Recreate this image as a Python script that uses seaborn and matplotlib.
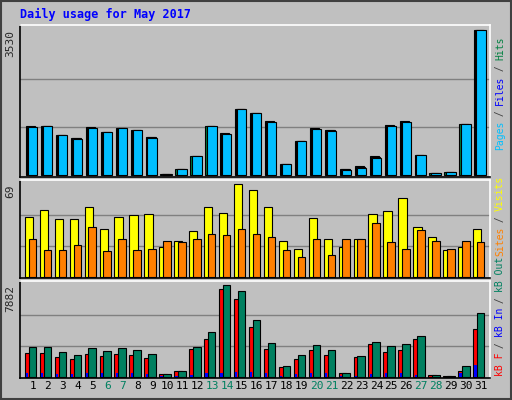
import numpy as np
import matplotlib
matplotlib.use("Agg")
import matplotlib.pyplot as plt
import seaborn as sns

# -------------------- #
# Data
# -------------------- #
days = list(range(1, 32))
weekend_days = [6, 7, 13, 14, 20, 21, 27, 28]

hits = [1201, 1201, 985, 913, 1177, 1057, 1153, 1105, 937, 48, 168, 480, 1201, 1033, 1609,
        1513, 1321, 288, 841, 1153, 1105, 168, 224, 464, 1225, 1321, 504, 72, 96, 1249, 3530]
files = [1190, 1201, 985, 900, 1165, 1057, 1153, 1105, 925, 48, 168, 480, 1201, 1020, 1609,
         1513, 1310, 288, 841, 1140, 1095, 160, 210, 450, 1210, 1310, 504, 72, 96, 1249, 3530]
pages = [1177, 1201, 985, 889, 1153, 1057, 1153, 1105, 913, 40, 150, 480, 1201, 1009, 1609,
         1513, 1297, 288, 841, 1129, 1081, 144, 190, 432, 1201, 1297, 504, 72, 96, 1249, 3530]

visits = [45, 50, 43, 43, 52, 36, 45, 46, 47, 22, 27, 34, 52, 48, 69,
          65, 52, 27, 21, 44, 28, 22, 28, 47, 49, 59, 37, 30, 20, 22, 36]
sites = [28, 20, 20, 24, 37, 19, 28, 20, 21, 27, 26, 28, 32, 31, 36,
         32, 30, 20, 15, 28, 16, 28, 28, 40, 26, 21, 35, 27, 21, 27, 26]

kb_f = [2058, 2058, 1710, 1536, 1971, 1797, 1971, 1884, 1623, 232, 493, 2405, 3275, 7535, 6665,
        4231, 2405, 840, 1536, 2318, 1884, 319, 1710, 2840, 2144, 2318, 3275, 145, 58, 493, 4057]
kb_in = [350, 350, 290, 290, 350, 350, 350, 350, 290, 60, 60, 180, 350, 350, 460,
         460, 350, 60, 290, 350, 350, 60, 100, 240, 350, 350, 180, 30, 30, 350, 1050]
kb_out = [2579, 2579, 2144, 1884, 2492, 2231, 2492, 2318, 1971, 232, 493, 2579, 3796, 7882, 7361,
          4840, 2927, 927, 1884, 2753, 2318, 319, 1797, 3014, 2666, 2840, 3536, 145, 58, 927, 5448]

max_hits, max_visits, max_kb = 3530, 69, 7882

BG = "#C0C0C0"
sns.set_style("white")
plt.rcParams['font.family'] = ['DejaVu Sans Mono', 'DejaVu Sans']

fig = plt.figure(figsize=(5.12, 4.0), dpi=100, facecolor=BG)
fig.patches.append(plt.Rectangle((0.002, 0.002), 0.996, 0.996, transform=fig.transFigure,
                                 fill=False, edgecolor="#404040", linewidth=1.5))

x = np.array(days, dtype=float)


def make_axes(rect, ymax, top_val):
    ax = fig.add_axes(rect, facecolor=BG)
    ax.set_xlim(0.18, 31.6)
    ax.set_ylim(-ymax * 0.01, ymax)
    for f in (1 / 3, 2 / 3):
        ax.axhline(top_val * f, color="#808080", linewidth=1, zorder=0)
    ax.set_xticks([])
    ax.set_yticks([])
    for side in ("left", "bottom"):
        ax.spines[side].set_color("black")
    for side in ("top", "right"):
        ax.spines[side].set_color("white")
    for sp in ax.spines.values():
        sp.set_linewidth(1.2)
    return ax


# Panel 1: hits / files / pages
ax1 = make_axes([0.040, 0.5575, 0.917, 0.38], max_hits * 1.037, max_hits)
ax1.bar(x - 0.45, hits, width=0.6, align="edge", color="#008040", edgecolor="black", linewidth=0.8)
ax1.bar(x - 0.37, files, width=0.6, align="edge", color="#0000FF", edgecolor="black", linewidth=0.8)
ax1.bar(x - 0.32, pages, width=0.62, align="edge", color="#00BFFF", edgecolor="black", linewidth=0.8)

# Panel 2: visits / sites
ax2 = make_axes([0.040, 0.306, 0.917, 0.243], max_visits * 1.044, max_visits)
ax2.bar(x - 0.53, visits, width=0.55, align="edge", color="#FFFF00", edgecolor="black", linewidth=0.8)
ax2.bar(x - 0.27, sites, width=0.5, align="edge", color="#FF8000", edgecolor="black", linewidth=0.8)

# Panel 3: kB F / kB In / kB Out
ax3 = make_axes([0.040, 0.055, 0.917, 0.243], max_kb * 1.04, max_kb)
ax3.bar(x - 0.53, kb_f, width=0.5, align="edge", color="#FF0000", edgecolor="black", linewidth=0.8)
ax3.bar(x - 0.45, kb_in, width=0.15, align="edge", color="#0000FF", linewidth=0)
ax3.bar(x - 0.27, kb_out, width=0.5, align="edge", color="#008060", edgecolor="black", linewidth=0.8)

# day labels
for d in days:
    ax3.text(d, -0.03, str(d), transform=ax3.get_xaxis_transform(), ha="center", va="top",
             fontsize=8, color="#008060" if d in weekend_days else "black")

# max labels on the left
for ax, val in ((ax1, max_hits), (ax2, max_visits), (ax3, max_kb)):
    ax.text(-0.012, val, str(val), transform=ax.get_yaxis_transform(),
            rotation=90, ha="right", va="top", fontsize=8)

# title
fig.text(20 / 512, 1 - 14 / 400, "Daily usage for May 2017", color="#0000FF",
         fontsize=8.5, fontweight="bold", va="center", ha="left")


# rotated coloured legend labels on the right
def side_label(pieces, y_bottom_px, char_px=5.6, x_px=500):
    y = y_bottom_px
    for txt, col in pieces:
        fig.text(x_px / 512, 1 - y / 400, txt, rotation=90, color=col, fontsize=7.0,
                 ha="center", va="bottom")
        y -= len(txt) * char_px


side_label([("Pages", "#00BFFF"), (" / ", "#404040"), ("Files", "#0000FF"),
            (" / ", "#404040"), ("Hits", "#008040")], 150)
side_label([("Sites", "#FF8000"), (" / ", "#404040"), ("Visits", "#FFFF00")], 256)
side_label([("kB F", "#FF0000"), (" / ", "#404040"), ("kB In", "#0000FF"),
            (" / ", "#404040"), ("kB Out", "#008060")], 376)

fig.savefig("out.png", dpi=100, facecolor=BG)
